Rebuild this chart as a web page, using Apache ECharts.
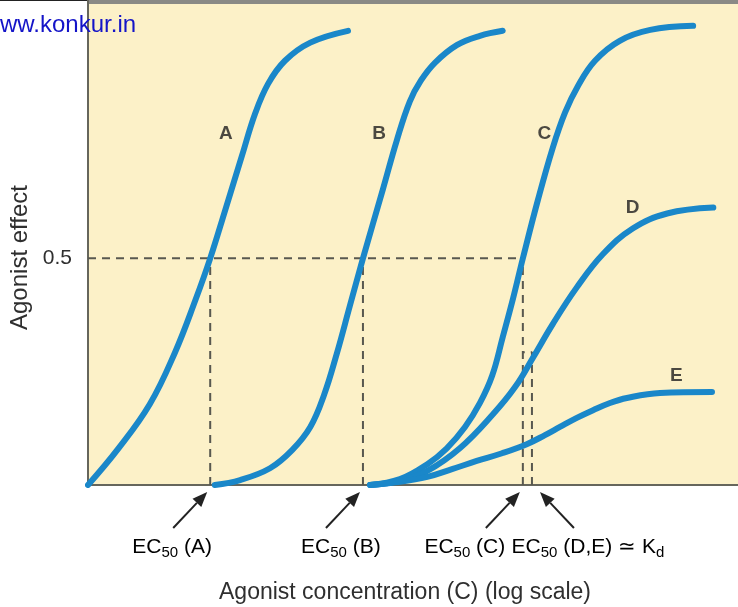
<!DOCTYPE html>
<html>
<head>
<meta charset="utf-8">
<script src="https://cdn.jsdelivr.net/npm/echarts@6/dist/echarts.min.js"></script>
<style>
  html, body { margin: 0; padding: 0; background: #fff; }
  #main { width: 738px; height: 607px; }
</style>
</head>
<body>
<div id="main"></div>
<script>
// x = log concentration (arbitrary units), y = fraction of maximal effect
var curveA = [[0, 0], [0.46, 0.079], [0.95, 0.178], [1.34, 0.293], [1.65, 0.407], [1.88, 0.5], [2.11, 0.606], [2.37, 0.727], [2.57, 0.819], [2.77, 0.885], [3.03, 0.936], [3.42, 0.976], [4.0, 1.002]];
var curveB = [[1.95, 0], [2.34, 0.011], [2.8, 0.037], [3.14, 0.077], [3.42, 0.128], [3.63, 0.198], [3.83, 0.291], [4.03, 0.396], [4.23, 0.5], [4.54, 0.654], [4.75, 0.76], [4.95, 0.846], [5.12, 0.892], [5.34, 0.932], [5.68, 0.971], [6.03, 0.991], [6.38, 1.002]];
var curveC = [[4.34, 0], [4.8, 0.013], [5.22, 0.046], [5.52, 0.081], [5.8, 0.128], [6.03, 0.181], [6.22, 0.242], [6.38, 0.326], [6.54, 0.412], [6.69, 0.5], [6.92, 0.628], [7.15, 0.744], [7.34, 0.822], [7.54, 0.881], [7.8, 0.936], [8.18, 0.98], [8.65, 1.004], [9.31, 1.013]];
var curveD = [[4.34, 0], [4.8, 0.009], [5.22, 0.031], [5.72, 0.081], [6.23, 0.156], [6.57, 0.216], [6.85, 0.282], [7.15, 0.355], [7.52, 0.436], [7.92, 0.509], [8.38, 0.566], [8.91, 0.599], [9.62, 0.612]];
var curveE = [[4.34, 0], [4.8, 0.007], [5.22, 0.018], [5.6, 0.035], [5.98, 0.053], [6.37, 0.07], [6.75, 0.09], [7.03, 0.11], [7.26, 0.128], [7.52, 0.148], [7.77, 0.165], [8.03, 0.181], [8.29, 0.192], [8.8, 0.203], [9.6, 0.205]];

var curveNames = ['A', 'B', 'C', 'D', 'E'];
var curveLabelPos = [[2.12, 0.775], [4.48, 0.775], [7.02, 0.775], [8.38, 0.612], [9.05, 0.24]];

var ec50A = 1.88, ec50B = 4.23, ec50C = 6.69, ec50DE = 6.83;
var halfDE = 0.293;
var yTicks = [0.5];

// dir: side the arrow comes from, shift: label centre relative to EC50 (px)
var ecLabels = [
  { x: ec50A, text: '{n|EC}{s|50}{n| (A)}', dir: -1, shift: -38 },
  { x: ec50B, text: '{n|EC}{s|50}{n| (B)}', dir: -1, shift: -22 },
  { x: ec50C, text: '{n|EC}{s|50}{n| (C)}', dir: -1, shift: -58 },
  { x: ec50DE, text: '{n|EC}{s|50}{n| (D,E) ≃ K}{s|d}', dir: 1, shift: 56 }
];

var blue = '#1a87c9';
var dashColor = '#58584f';
var font = '"Liberation Sans", Arial, sans-serif';

var guides = [
  [[0, 0.5], [ec50C, 0.5]],
  [[ec50A, 0], [ec50A, 0.5]],
  [[ec50B, 0], [ec50B, 0.5]],
  [[ec50C, 0], [ec50C, 0.5]],
  [[ec50DE, 0], [ec50DE, halfDE], [ec50C, halfDE]]
];

var series = [];
guides.forEach(function(g) {
  series.push({
    type: 'line', data: g, symbol: 'none', silent: true, z: 1,
    lineStyle: { color: dashColor, width: 2, type: [8, 6] }
  });
});
[curveA, curveB, curveC, curveD, curveE].forEach(function(c) {
  series.push({
    type: 'line', data: c, symbol: 'none', smooth: 0.4, z: 3,
    lineStyle: { color: blue, width: 6, cap: 'round' }
  });
});
series.push({
  type: 'scatter', symbolSize: 0, z: 4,
  data: curveLabelPos.map(function(p, i) { return { value: p, name: curveNames[i] }; }),
  label: {
    show: true, position: 'inside', formatter: '{b}',
    fontFamily: font, fontWeight: 'bold', fontSize: 19, color: '#1e1e1e'
  }
});

var myChart = echarts.init(document.getElementById('main'));
var option = {
  backgroundColor: '#ffffff',
  animation: false,
  grid: {
    left: 88, right: 0, top: 0, bottom: 122,
    outerBoundsMode: 'none', containLabel: false,
    show: true, backgroundColor: '#fcf1c8', borderWidth: 0
  },
  xAxis: {
    type: 'value', min: 0, max: 10,
    axisLine: { show: true, onZero: false, lineStyle: { color: '#66665c', width: 2 } },
    axisTick: { show: false },
    axisLabel: { show: false },
    splitLine: { show: false },
    name: 'Agonist concentration (C) (log scale)',
    nameLocation: 'middle',
    nameGap: 96,
    nameTextStyle: { fontFamily: font, fontSize: 23, color: '#2f2f2f', padding: [0, 16, 0, 0] }
  },
  yAxis: {
    type: 'value', min: 0, max: 1.07, interval: 0.5,
    axisLine: { show: true, onZero: false, lineStyle: { color: '#66665c', width: 2 } },
    axisTick: { show: false },
    splitLine: { show: false },
    axisLabel: {
      margin: 16, fontFamily: font, fontSize: 21, color: '#2f2f2f',
      formatter: function(v) { return yTicks.indexOf(v) >= 0 ? String(v) : ''; }
    },
    name: 'Agonist effect',
    nameLocation: 'middle',
    nameRotate: 90,
    nameGap: 55,
    nameTextStyle: { fontFamily: font, fontSize: 24, color: '#2f2f2f', padding: [0, 30, 0, 0] }
  },
  series: series
};
myChart.setOption(option);

// annotations below the axis: arrows pointing at each EC50
var graphics = [];
var baseY = myChart.convertToPixel({ gridIndex: 0 }, [0, 0])[1];
ecLabels.forEach(function(l) {
  var px = myChart.convertToPixel({ gridIndex: 0 }, [l.x, 0])[0];
  var hx = px + (l.dir < 0 ? -3 : 8), hy = baseY + 7;
  var tx = hx + l.dir * 34, ty = baseY + 43;
  var ang = Math.atan2(hy - ty, hx - tx);
  var len = 15, w = 6;
  var bx = hx - len * Math.cos(ang), by = hy - len * Math.sin(ang);
  graphics.push({
    type: 'line', shape: { x1: tx, y1: ty, x2: bx, y2: by },
    style: { stroke: '#222', lineWidth: 2 }
  });
  graphics.push({
    type: 'polygon',
    shape: { points: [[hx, hy], [bx - w * Math.sin(ang), by + w * Math.cos(ang)], [bx + w * Math.sin(ang), by - w * Math.cos(ang)]] },
    style: { fill: '#222' }
  });
  graphics.push({
    type: 'text', x: px + l.shift, y: baseY + 62,
    style: {
      text: l.text, align: 'center', verticalAlign: 'middle',
      rich: {
        n: { fontFamily: font, fontSize: 21, color: '#2f2f2f', lineHeight: 26 },
        s: { fontFamily: font, fontSize: 15, color: '#2f2f2f', lineHeight: 26, padding: [12, 0, 0, 0] }
      }
    }
  });
});
// scan frame top edge and watermark
graphics.push({ type: 'rect', shape: { x: 0, y: 0, width: 738, height: 1 }, style: { fill: '#222' } });
graphics.push({ type: 'rect', shape: { x: 88, y: 0, width: 650, height: 4 }, style: { fill: '#8a8a86' } });
graphics.push({
  type: 'text', x: 0, y: 25, z: 100,
  style: { text: 'ww.konkur.in', fontFamily: font, fontSize: 24, fill: '#1414c8', verticalAlign: 'middle' }
});
myChart.setOption({ graphic: graphics });
</script>
</body>
</html>
